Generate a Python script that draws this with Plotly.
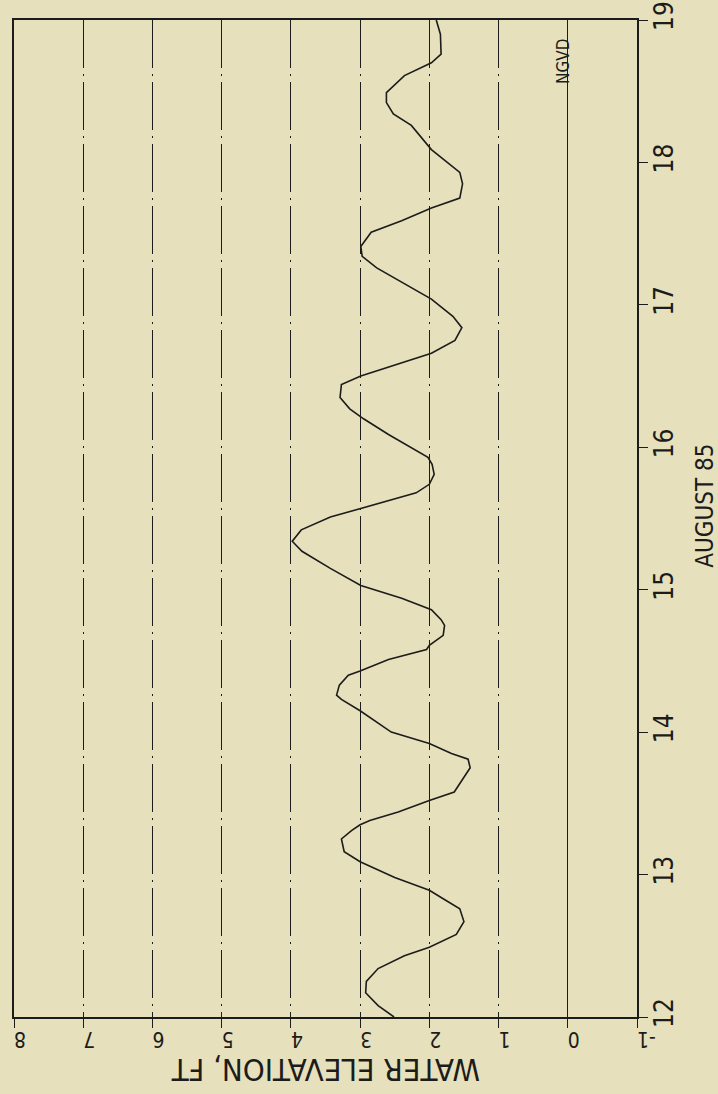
import plotly.graph_objects as go

# Tide record: day of August 1985 vs water elevation (ft, NGVD)
dates = [12.00, 12.08, 12.17, 12.25, 12.34, 12.43, 12.49, 12.58, 12.67, 12.76,
         12.83, 12.89, 12.98, 13.09, 13.16, 13.25, 13.31, 13.35, 13.38, 13.44,
         13.52, 13.58, 13.75, 13.81, 13.85, 13.92, 14.00, 14.15, 14.23, 14.26,
         14.33, 14.40, 14.43, 14.51, 14.58, 14.61, 14.68, 14.75, 14.79, 14.86,
         14.94, 15.03, 15.15, 15.27, 15.34, 15.42, 15.51, 15.57, 15.68, 15.74,
         15.81, 15.88, 15.93, 16.09, 16.20, 16.27, 16.35, 16.44, 16.50, 16.66,
         16.75, 16.84, 16.92, 17.04, 17.26, 17.34, 17.41, 17.51, 17.59, 17.68,
         17.75, 17.85, 17.93, 18.09, 18.26, 18.34, 18.42, 18.49, 18.61, 18.70,
         18.76, 18.90, 19.00]
elevation = [2.51, 2.74, 2.92, 2.91, 2.74, 2.36, 2.00, 1.61, 1.50, 1.56,
             1.80, 2.00, 2.50, 3.00, 3.23, 3.27, 3.12, 3.00, 2.86, 2.45,
             2.00, 1.64, 1.41, 1.44, 1.68, 2.00, 2.55, 3.00, 3.27, 3.34,
             3.30, 3.17, 3.00, 2.59, 2.04, 2.00, 1.80, 1.78, 1.83, 1.97,
             2.40, 2.99, 3.43, 3.84, 3.98, 3.85, 3.43, 2.99, 2.19, 2.00,
             1.93, 1.96, 2.02, 2.59, 2.95, 3.15, 3.29, 3.27, 2.99, 1.97,
             1.63, 1.53, 1.66, 1.97, 2.76, 2.97, 2.99, 2.84, 2.40, 1.97,
             1.56, 1.52, 1.56, 1.97, 2.26, 2.52, 2.62, 2.62, 2.36, 1.97,
             1.83, 1.84, 1.90]

elev_ticks = [-1, 0, 1, 2, 3, 4, 5, 6, 7, 8]
elev_labels = ["-1", "0", "1", "2", "3", "4", "5", "6", "7", "8"]
day_ticks = [12, 13, 14, 15, 16, 17, 18, 19]
day_labels = ["12", "13", "14", "15", "16", "17", "18", "19"]

x_title = "WATER ELEVATION, FT"
y_title = "AUGUST 85"
datum_label = "NGVD"

INK = "#1c1c1a"
PAPER = "#E6E0BD"
FONT = "Liberation Sans Narrow, DejaVu Sans Condensed, Liberation Sans, sans-serif"

fig = go.Figure()
fig.add_trace(go.Scatter(x=elevation, y=dates, mode="lines",
                         line=dict(color=INK, width=1.6), hoverinfo="skip"))

fig.update_layout(
    width=718, height=1094, autosize=False,
    margin=dict(l=14, r=81, t=20, b=77, pad=0),
    paper_bgcolor=PAPER, plot_bgcolor=PAPER,
    showlegend=False,
    font=dict(family=FONT, color=INK),
)

fig.update_xaxes(
    range=[8, -1], tickmode="array", tickvals=elev_ticks, ticktext=elev_labels,
    tickangle=180, ticks="outside", ticklen=9, tickwidth=1.4, tickcolor=INK,
    tickfont=dict(size=21, family=FONT, color=INK),
    showline=True, linecolor=INK, linewidth=1.8, mirror=True,
    showgrid=True, gridcolor=INK, gridwidth=1.2, griddash="48px,6px,2px,6px",
    zeroline=True, zerolinecolor=INK, zerolinewidth=1.4,
    automargin=False,
)
fig.update_yaxes(
    range=[12, 19], side="right", tickmode="array", tickvals=day_ticks, ticktext=day_labels,
    tickangle=-90, ticks="outside", ticklen=9, tickwidth=1.4, tickcolor=INK,
    ticklabelstandoff=-6,
    tickfont=dict(size=26, family=FONT, color=INK),
    showline=True, linecolor=INK, linewidth=1.8, mirror=True,
    showgrid=False, zeroline=False,
    automargin=False,
)

fig.add_annotation(text=x_title, xref="paper", yref="paper", x=0.5, y=-0.053,
                   xanchor="center", yanchor="middle", showarrow=False, textangle=180,
                   font=dict(size=31, family=FONT, color=INK))
fig.add_annotation(text=y_title, xref="paper", yref="paper", x=1.108, y=0.513,
                   xanchor="center", yanchor="middle", showarrow=False, textangle=-90,
                   font=dict(size=24, family=FONT, color=INK))
fig.add_annotation(text=datum_label, xref="x", yref="y", x=0.06, y=18.71,
                   xanchor="center", yanchor="middle", showarrow=False, textangle=-90,
                   font=dict(size=17, family=FONT, color=INK))

# remove the browser's default 8px page margin so the figure sits at the window origin
fig.write_html("out.html", config={"displayModeBar": False},
               post_script="document.body.style.margin='0';")
